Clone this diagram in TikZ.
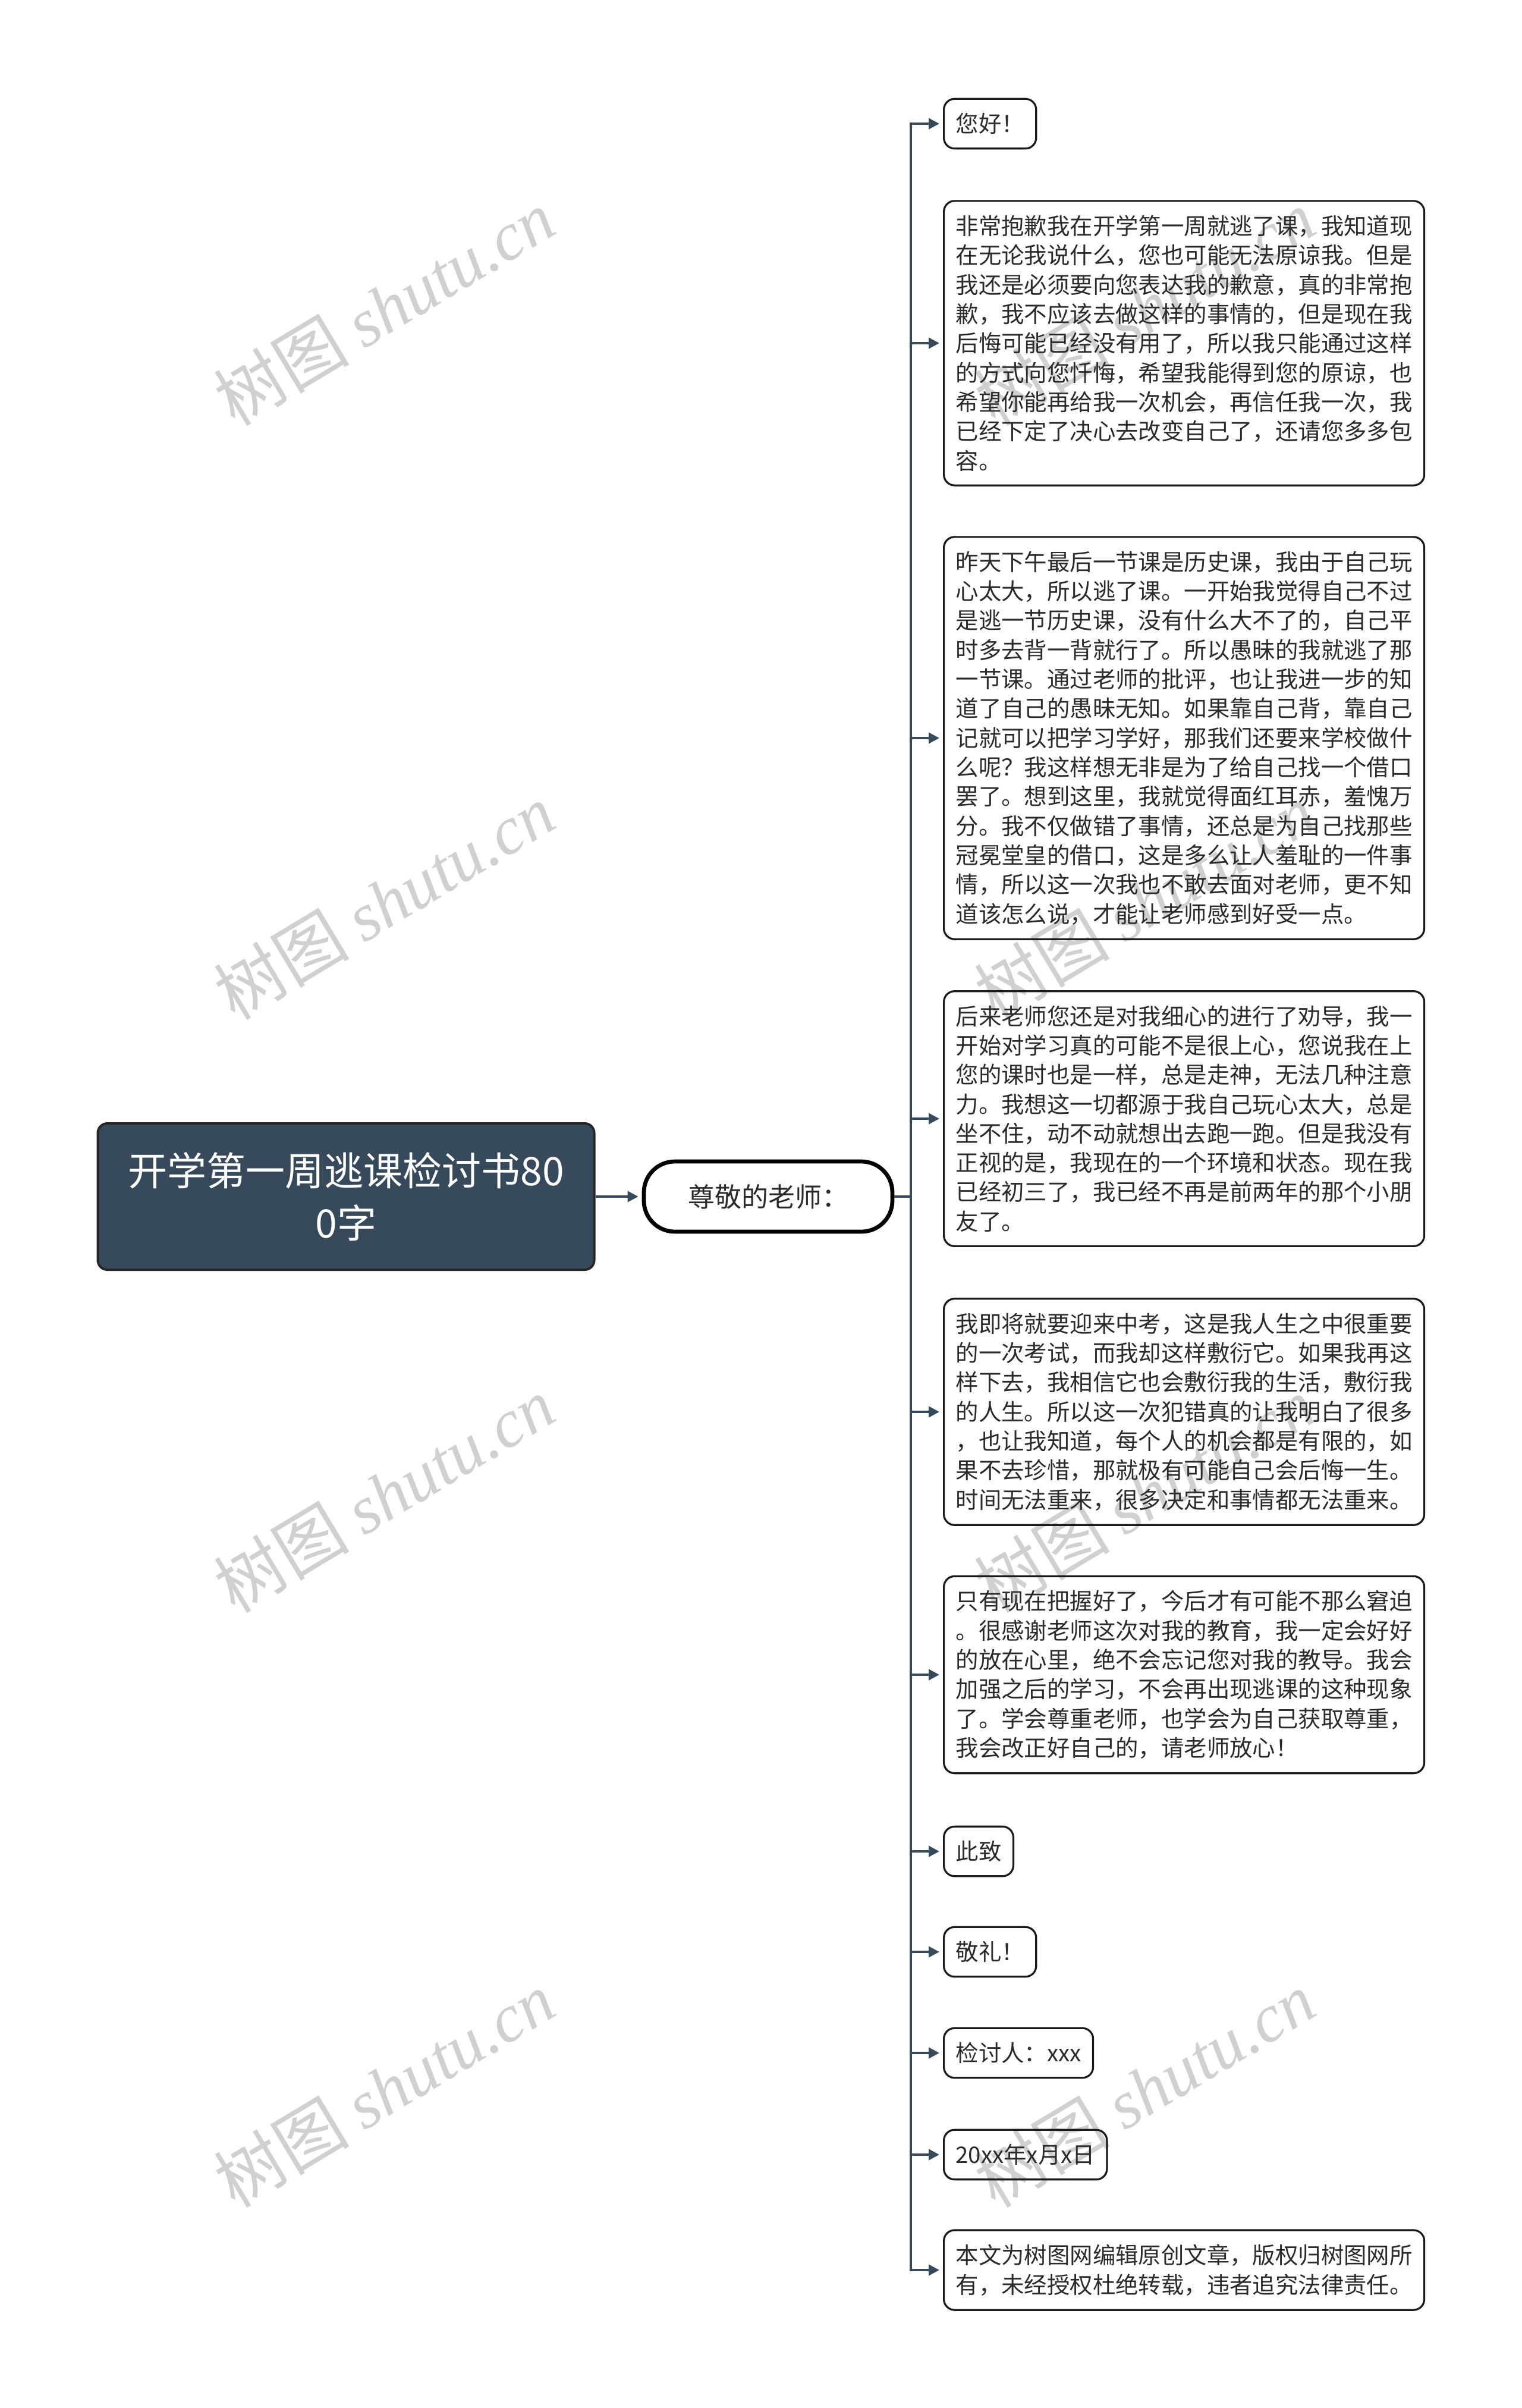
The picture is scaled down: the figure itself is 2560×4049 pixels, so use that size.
\documentclass[tikz,border=0pt]{standalone}
\usepackage{fontspec}
\setmainfont{Noto Sans CJK SC}
\newfontfamily\markfont{Liberation Serif}
\usepackage{tikz}
\usetikzlibrary{arrows.meta,positioning,backgrounds}
\definecolor{slate}{HTML}{374A5C}
\definecolor{inkgray}{HTML}{2B2B2B}
\definecolor{markgray}{HTML}{D0D0D0}

\begin{document}
\begin{tikzpicture}[x=0.25pt,y=-0.25pt,
			rootbox/.style={draw=black!85,fill=slate,line width=1pt,rounded corners=4pt,text=white,
				font=\fontsize{16.5}{22}\selectfont,align=center,minimum width=208.75pt,minimum height=61.5pt},
			subbox/.style={draw=black,line width=1.7pt,rounded corners=13pt,text=inkgray,
				font=\fontsize{11.25}{14}\selectfont,minimum width=104.5pt,minimum height=29.5pt},
			leafbox/.style={draw=black!90,line width=0.8pt,rounded corners=4.5pt,text=inkgray,anchor=west,
				font=\fontsize{9.6}{12.33}\selectfont,align=left,inner xsep=5pt,inner ysep=6pt},
			link/.style={draw=slate,line width=1pt},
			branch/.style={link,-{Triangle[length=4.5pt,width=4.5pt]},shorten >=1.5pt},
			shutumark/.style={text=markgray,rotate=31,font=\fontsize{28.5}{28.5}\selectfont}
		]
		\useasboundingbox[fill=white] (0,0) rectangle (2560,4049);

		% watermarks
		\node[shutumark] (markA) at (646,517) {树图 {\markfont\itshape shutu.cn}};
		\node[shutumark] (markB) at (646,1516) {树图 {\markfont\itshape shutu.cn}};
		\node[shutumark] (markC) at (646,2513) {树图 {\markfont\itshape shutu.cn}};
		\node[shutumark] (markD) at (646,3513) {树图 {\markfont\itshape shutu.cn}};
		\node[shutumark] (markE) at (1925,517) {树图 {\markfont\itshape shutu.cn}};
		\node[shutumark] (markF) at (1925,1516) {树图 {\markfont\itshape shutu.cn}};
		\node[shutumark] (markG) at (1925,2513) {树图 {\markfont\itshape shutu.cn}};
		\node[shutumark] (markH) at (1925,3513) {树图 {\markfont\itshape shutu.cn}};

		\node[rootbox] (root) at (582,2012) {开学第一周逃课检讨书80\\0字};
		\node[subbox] (teacher) at (1292,2012) {尊敬的老师：};
		\coordinate (hub) at (1532,2012);

		\node[leafbox] (hello) at (1586,208) {您好！};
		\node[leafbox] (sorry) at (1586,577) {非常抱歉我在开学第一周就逃了课，我知道现\\
			在无论我说什么，您也可能无法原谅我。但是\\
			我还是必须要向您表达我的歉意，真的非常抱\\
			歉，我不应该去做这样的事情的，但是现在我\\
			后悔可能已经没有用了，所以我只能通过这样\\
			的方式向您忏悔，希望我能得到您的原谅，也\\
			希望你能再给我一次机会，再信任我一次，我\\
			已经下定了决心去改变自己了，还请您多多包\\
			容。};
		\node[leafbox] (history) at (1586,1241) {昨天下午最后一节课是历史课，我由于自己玩\\
			心太大，所以逃了课。一开始我觉得自己不过\\
			是逃一节历史课，没有什么大不了的，自己平\\
			时多去背一背就行了。所以愚昧的我就逃了那\\
			一节课。通过老师的批评，也让我进一步的知\\
			道了自己的愚昧无知。如果靠自己背，靠自己\\
			记就可以把学习学好，那我们还要来学校做什\\
			么呢？我这样想无非是为了给自己找一个借口\\
			罢了。想到这里，我就觉得面红耳赤，羞愧万\\
			分。我不仅做错了事情，还总是为自己找那些\\
			冠冕堂皇的借口，这是多么让人羞耻的一件事\\
			情，所以这一次我也不敢去面对老师，更不知\\
			道该怎么说，才能让老师感到好受一点。};
		\node[leafbox] (advice) at (1586,1881) {后来老师您还是对我细心的进行了劝导，我一\\
			开始对学习真的可能不是很上心，您说我在上\\
			您的课时也是一样，总是走神，无法几种注意\\
			力。我想这一切都源于我自己玩心太大，总是\\
			坐不住，动不动就想出去跑一跑。但是我没有\\
			正视的是，我现在的一个环境和状态。现在我\\
			已经初三了，我已经不再是前两年的那个小朋\\
			友了。};
		\node[leafbox] (exam) at (1586,2374) {我即将就要迎来中考，这是我人生之中很重要\\
			的一次考试，而我却这样敷衍它。如果我再这\\
			样下去，我相信它也会敷衍我的生活，敷衍我\\
			的人生。所以这一次犯错真的让我明白了很多\\
			，也让我知道，每个人的机会都是有限的，如\\
			果不去珍惜，那就极有可能自己会后悔一生。\\
			时间无法重来，很多决定和事情都无法重来。};
		\node[leafbox] (promise) at (1586,2816) {只有现在把握好了，今后才有可能不那么窘迫\\
			。很感谢老师这次对我的教育，我一定会好好\\
			的放在心里，绝不会忘记您对我的教导。我会\\
			加强之后的学习，不会再出现逃课的这种现象\\
			了。学会尊重老师，也学会为自己获取尊重，\\
			我会改正好自己的，请老师放心！};
		\node[leafbox] (regards) at (1586,3113) {此致};
		\node[leafbox] (salute) at (1586,3282) {敬礼！};
		\node[leafbox] (signer) at (1586,3452) {检讨人：xxx};
		\node[leafbox] (date) at (1586,3623) {20xx年x月x日};
		\node[leafbox] (notice) at (1586,3817) {本文为树图网编辑原创文章，版权归树图网所\\
			有，未经授权杜绝转载，违者追究法律责任。};

		\draw[branch] (root) -- (teacher);
		\draw[link] (teacher) -- (hub);
		\draw[branch] (hub) |- (hello);
		\draw[branch] (hub) |- (sorry);
		\draw[branch] (hub) |- (history);
		\draw[branch] (hub) |- (advice);
		\draw[branch] (hub) |- (exam);
		\draw[branch] (hub) |- (promise);
		\draw[branch] (hub) |- (regards);
		\draw[branch] (hub) |- (salute);
		\draw[branch] (hub) |- (signer);
		\draw[branch] (hub) |- (date);
		\draw[branch] (hub) |- (notice);

	\end{tikzpicture}
\end{document}
